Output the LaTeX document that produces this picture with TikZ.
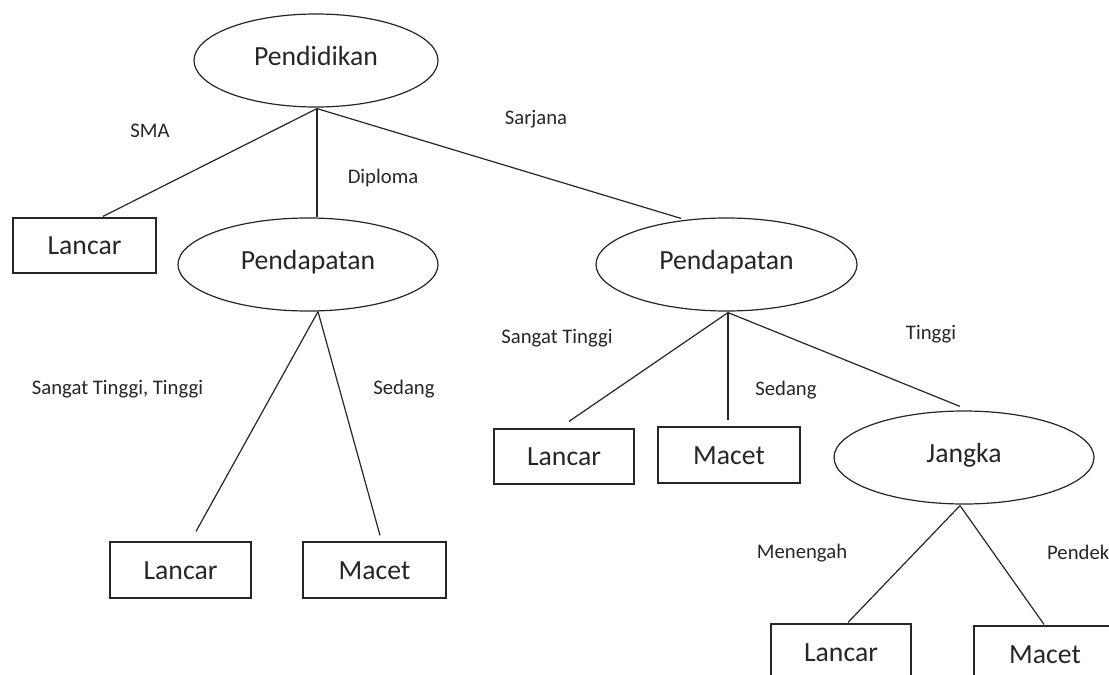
\documentclass[tikz,border=0pt]{standalone}
\usepackage{fontspec}
\setmainfont{Carlito}
\usetikzlibrary{shapes.geometric,calc}
\definecolor{ink}{HTML}{262626}
\begin{document}
\begin{tikzpicture}[x=1pt,y=-1pt,
  conn/.style={draw=ink, line width=1.2pt},
  ellnode/.style={ellipse, draw=ink, line width=1.2pt, minimum width=260pt, minimum height=93pt,
    inner sep=0pt, text=ink, font=\fontsize{27.7}{30}\selectfont, text height=18pt, text depth=8pt},
  boxnode/.style={rectangle, draw=ink, line width=1.2pt, minimum width=141pt, minimum height=55pt,
    inner sep=0pt, text=ink, font=\fontsize{27.7}{30}\selectfont, text height=18pt, text depth=0pt},
  lbl/.style={inner sep=0pt, text=ink, font=\fontsize{20.7}{23}\selectfont, text height=13.3pt, text depth=0pt}]
\useasboundingbox (0,0) rectangle (1109,675);
\clip (0,0) rectangle (1109,675);
\fill[white] (0,0) rectangle (1109,675);

% nodes
\node[ellnode, minimum width=244pt] (pd) at (316,60.5) {Pendidikan};
\node[boxnode, minimum width=143pt] (l1) at (84.5,245.5) {Lancar};
\node[ellnode] (pa1) at (308,264.5) {Pendapatan};
\node[ellnode, minimum width=261pt] (pa2) at (726.5,264.5) {Pendapatan};
\node[boxnode, minimum width=141pt, minimum height=56pt] (l4) at (180.5,570) {Lancar};
\node[boxnode, minimum width=143pt, minimum height=56pt] (m4) at (374.5,570) {Macet};
\node[boxnode, minimum width=140pt] (l2) at (564,456.5) {Lancar};
\node[boxnode, minimum width=142pt, minimum height=56pt] (m2) at (729,455) {Macet};
\node[ellnode] (jk) at (964,457.5) {Jangka};
\node[boxnode, minimum width=140pt, minimum height=56pt] (l3) at (841,652) {Lancar};
\node[boxnode, minimum width=142pt, minimum height=56pt] (m3) at (1045,654) {Macet};

% connectors
\draw[conn] ($(pd.south)+(1,1)$) -- ($(l1.north)+(18.5,-1)$);
\draw[conn] ($(pd.south)+(1,1)$) -- ($(pa1.north)+(9,0)$);
\draw[conn] ($(pd.south)+(1,1)$) -- ($(pa2.north)+(-45.5,1)$);
\draw[conn] ($(pa1.south)+(10,0)$) -- ($(l4.north)+(15.5,-10)$);
\draw[conn] ($(pa1.south)+(10,0)$) -- ($(m4.north)+(5.5,-6)$);
\draw[conn] ($(pa2.south)+(1.5,1)$) -- ($(l2.north)+(5,-7)$);
\draw[conn] ($(pa2.south)+(1.5,1)$) -- ($(m2.north)+(-1,-6)$);
\draw[conn] ($(pa2.south)+(1.5,1)$) -- ($(jk.north)+(-4,-4)$);
\draw[conn] ($(jk.south)+(-4,1)$) -- ($(l3.north)+(7,-1)$);
\draw[conn] ($(jk.south)+(-4,1)$) -- ($(m3.north)+(-1,-1)$);

% labels
\node[lbl] (tSMA) at (150,130.5) {SMA};
\node[lbl] (tDip) at (383,177) {Diploma};
\node[lbl] (tSar) at (536,118) {Sarjana};
\node[lbl] (tSTT) at (117.5,388) {Sangat Tinggi, Tinggi};
\node[lbl] (tSed1) at (404,388) {Sedang};
\node[lbl] (tST) at (557,337) {Sangat Tinggi};
\node[lbl] (tSed2) at (786,389) {Sedang};
\node[lbl] (tTin) at (931,333) {Tinggi};
\node[lbl] (tMen) at (802,552) {Menengah};
\node[lbl, anchor=west] (tPen) at (1047,553) {Pendek};
\end{tikzpicture}
\end{document}
